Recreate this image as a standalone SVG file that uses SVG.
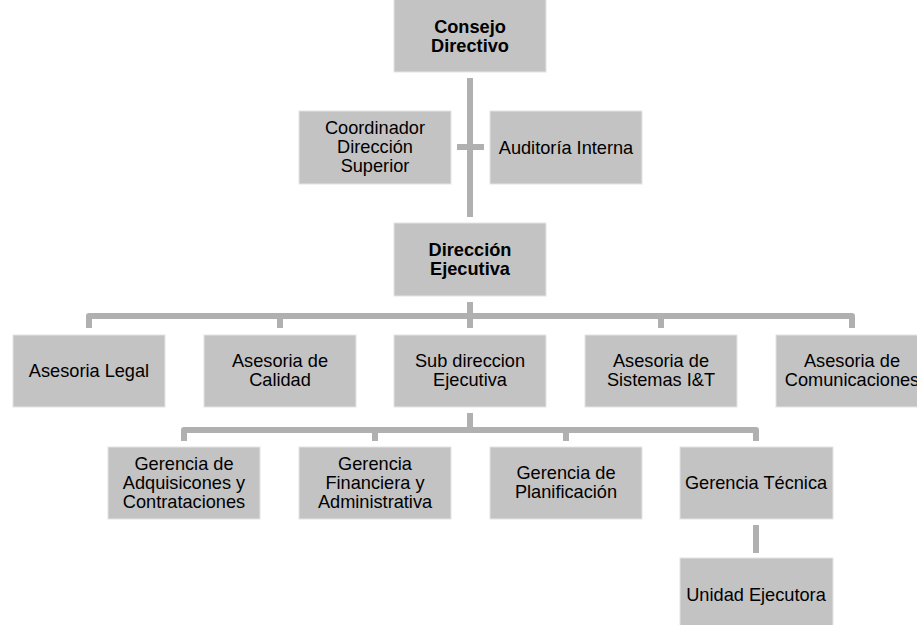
<svg xmlns="http://www.w3.org/2000/svg" width="917" height="625" viewBox="0 0 917 625">
<style>
.box{fill:#c3c3c3;stroke:#e4e4e4;stroke-width:1}
.t{font-family:"Liberation Sans",Arial,sans-serif;font-size:18.2px;fill:#000;text-anchor:middle}
.b{font-weight:bold}
.ln{fill:none;stroke:#b0b0b0;stroke-width:6;stroke-linejoin:round}
</style>
<rect width="917" height="625" fill="#fff"/>
<g id="connectors">
<path class="ln" d="M470 78V217"/>
<path class="ln" d="M457 147H484"/>
<path class="ln" d="M470 302V328"/>
<path class="ln" d="M89 328V316H852V328"/>
<path class="ln" d="M280 316V328M661 316V328"/>
<path class="ln" d="M470 413V430"/>
<path class="ln" d="M184 441V430H756V441"/>
<path class="ln" d="M375 430V441M566 430V441"/>
<path class="ln" d="M756 525V553"/>
</g>
<g id="consejo"><rect class="box" x="394" y="-1" width="152" height="73"/><text class="t b" x="470" y="32.5">Consejo</text><text class="t b" x="470" y="51.5">Directivo</text></g>
<g id="coordinador"><rect class="box" x="299" y="111" width="152" height="73"/><text class="t" x="375" y="134">Coordinador</text><text class="t" x="375" y="153">Dirección</text><text class="t" x="375" y="172">Superior</text></g>
<g id="auditoria"><rect class="box" x="490" y="111" width="152" height="73"/><text class="t" x="566" y="154">Auditoría Interna</text></g>
<g id="direccion"><rect class="box" x="394" y="223" width="152" height="73"/><text class="t b" x="470" y="256">Dirección</text><text class="t b" x="470" y="275">Ejecutiva</text></g>
<g id="legal"><rect class="box" x="13" y="335" width="152" height="72"/><text class="t" x="89" y="377">Asesoria Legal</text></g>
<g id="calidad"><rect class="box" x="204" y="335" width="152" height="72"/><text class="t" x="280" y="367">Asesoria de</text><text class="t" x="280" y="386">Calidad</text></g>
<g id="subdireccion"><rect class="box" x="394" y="335" width="152" height="72"/><text class="t" x="470" y="367">Sub direccion</text><text class="t" x="470" y="386">Ejecutiva</text></g>
<g id="sistemas"><rect class="box" x="585" y="335" width="152" height="72"/><text class="t" x="661" y="367">Asesoria de</text><text class="t" x="661" y="386">Sistemas I&amp;T</text></g>
<g id="comunicaciones"><rect class="box" x="776" y="335" width="152" height="72"/><text class="t" x="852" y="367">Asesoria de</text><text class="t" x="852" y="386">Comunicaciones</text></g>
<g id="adquisiciones"><rect class="box" x="108" y="447" width="152" height="72"/><text class="t" x="184" y="470">Gerencia de</text><text class="t" x="184" y="489">Adquisicones y</text><text class="t" x="184" y="508">Contrataciones</text></g>
<g id="financiera"><rect class="box" x="299" y="447" width="152" height="72"/><text class="t" x="375" y="470">Gerencia</text><text class="t" x="375" y="489">Financiera y</text><text class="t" x="375" y="508">Administrativa</text></g>
<g id="planificacion"><rect class="box" x="490" y="447" width="152" height="72"/><text class="t" x="566" y="479">Gerencia de</text><text class="t" x="566" y="498">Planificación</text></g>
<g id="tecnica"><rect class="box" x="680" y="447" width="153" height="72"/><text class="t" x="756" y="489">Gerencia Técnica</text></g>
<g id="unidad"><rect class="box" x="680" y="558" width="153" height="73"/><text class="t" x="756" y="601">Unidad Ejecutora</text></g>
</svg>
